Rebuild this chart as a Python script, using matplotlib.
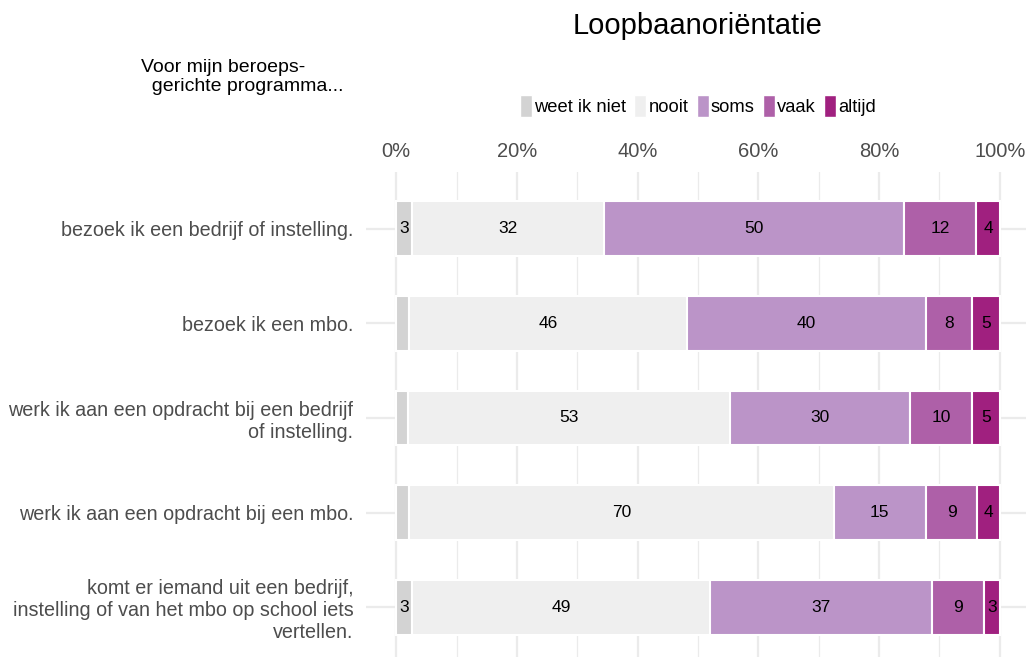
import matplotlib
matplotlib.use("Agg")
import matplotlib.pyplot as plt
from matplotlib.patches import Rectangle
import numpy as np

plt.rcParams["font.family"] = ["Liberation Sans", "DejaVu Sans"]

# Survey items (top to bottom) and answer shares in percent
categories = [
    "bezoek ik een bedrijf of instelling.",
    "bezoek ik een mbo.",
    "werk ik aan een opdracht bij een bedrijf\nof instelling.",
    "werk ik aan een opdracht bij een mbo.",
    "komt er iemand uit een bedrijf,\ninstelling of van het mbo op school iets\nvertellen.",
]
answers = ["weet ik niet", "nooit", "soms", "vaak", "altijd"]
weet_ik_niet = [2.6, 2.2, 2.0, 2.2, 2.6]
nooit = [31.8, 46.0, 53.3, 70.3, 49.4]
soms = [49.7, 39.6, 29.8, 15.2, 36.8]
vaak = [12.0, 7.6, 10.3, 8.6, 8.6]
altijd = [3.9, 4.6, 4.6, 3.7, 2.6]
tick_values = [0, 20, 40, 60, 80, 100]
tick_labels = ["0%", "20%", "40%", "60%", "80%", "100%"]

series = [weet_ik_niet, nooit, soms, vaak, altijd]
colors = ["#D3D3D3", "#EFEFEF", "#BB94C8", "#AE60A8", "#A0207F"]

fig = plt.figure(figsize=(10.26, 6.57), dpi=100)
ax = fig.add_axes([366 / 1026, -7 / 657, 664 / 1026, 492 / 657])

n = len(categories)
y = np.arange(n)
ax.set_xlim(-5, 105)
ax.set_ylim(n - 1 + 0.6, -0.6)

# grid
grid_col = "#EBEBEB"
for v in range(0, 101, 10):
    ax.axvline(v, color=grid_col, lw=1.6 if v % 20 == 0 else 0.9, zorder=0)
for yy in y:
    ax.axhline(yy, color=grid_col, lw=1.6, zorder=0)

left = np.zeros(n)
for vals, col in zip(series, colors):
    vals = np.array(vals)
    ax.barh(y, vals, left=left, height=0.58, color=col, edgecolor="white",
            linewidth=1.5, zorder=2)
    for yi, (l, v) in enumerate(zip(left, vals)):
        if v >= 2.5:
            ax.text(l + v / 2, yi, f"{v:.0f}", ha="center", va="center",
                    fontsize=12.5, color="black", zorder=3)
    left = left + vals

for s in ax.spines.values():
    s.set_visible(False)
ax.xaxis.tick_top()
ax.set_xticks(tick_values)
ax.set_xticklabels(tick_labels)
ax.tick_params(axis="x", length=0, pad=8, labelsize=14.5, labelcolor="#4D4D4D")
ax.set_yticks(y)
ax.set_yticklabels(categories, ha="right", multialignment="right")
ax.tick_params(axis="y", length=0, pad=9, labelsize=14.2, labelcolor="#4D4D4D")
for lbl in ax.get_yticklabels():
    lbl.set_linespacing(1.17)

fig.text(698 / 1026, 1 - 26 / 657, "Loopbaanoriëntatie", ha="center",
         va="center", fontsize=21, color="black")
fig.text(141 / 1026, 1 - 77 / 657, "Voor mijn beroeps-\n  gerichte programma...",
         ha="left", va="center", fontsize=14, color="black",
         multialignment="left", linespacing=1.15)

handles = [Rectangle((0, 0), 1, 1, facecolor=c, edgecolor="white") for c in colors]
fig.legend(handles, answers, loc="center", bbox_to_anchor=(698 / 1026, 1 - 106 / 657),
           ncol=5, frameon=False, fontsize=13.2, handlelength=0.65, handleheight=1.5,
           handletextpad=0.12, columnspacing=0.45, borderaxespad=0, borderpad=0)

fig.savefig("out.png", dpi=100)
